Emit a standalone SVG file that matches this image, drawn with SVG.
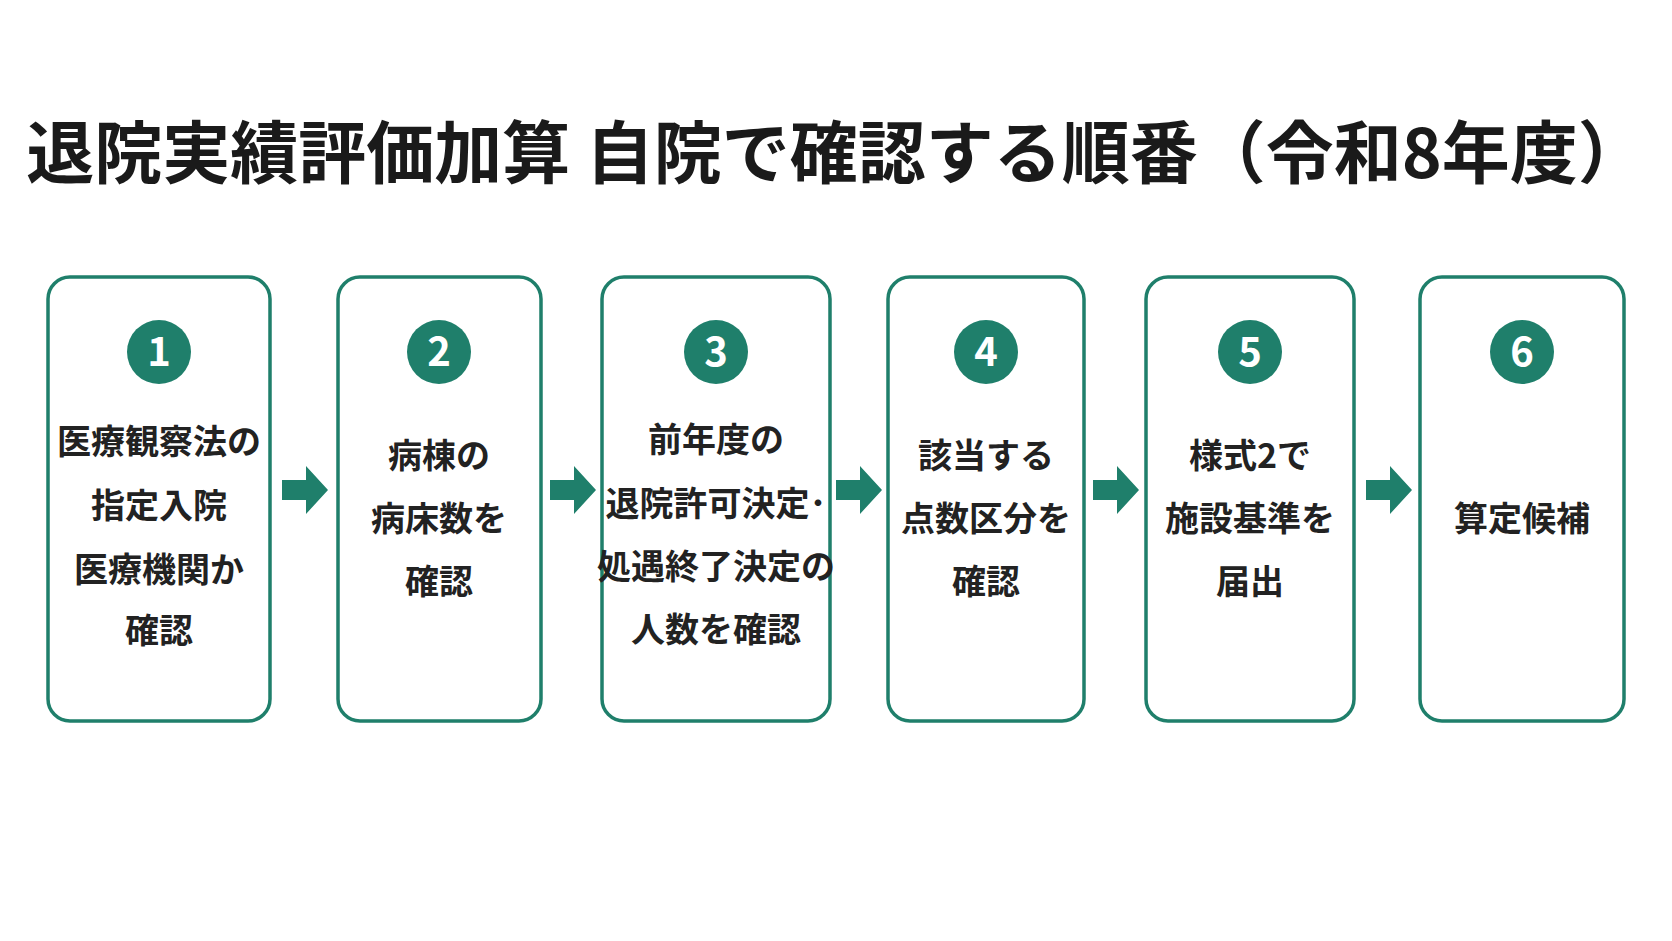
<svg xmlns="http://www.w3.org/2000/svg" width="1672" height="941" viewBox="0 0 1672 941">
<style>
.box{fill:#fff;stroke:#1f7f6b;stroke-width:3.5}
.c{fill:#1f7f6b}
.n{font-family:"Noto Sans CJK JP","Noto Sans",sans-serif;font-weight:700;font-size:40px;fill:#fff;text-anchor:middle}
.t{font-family:"Noto Sans CJK JP",sans-serif;font-weight:700;font-size:34px;fill:#222;text-anchor:middle}
.ttl{font-family:"Noto Sans CJK JP",sans-serif;font-weight:700;font-size:68px;fill:#1a1a1a;text-anchor:middle}
.a{fill:#1f7f6b}
</style>
<rect width="1672" height="941" fill="#fff"/>
<text class="ttl" x="836" y="178">退院実績評価加算 自院で確認する順番（令和8年度）</text>
<g id="n1"><rect class="box" x="48" y="277" width="222" height="444" rx="22"/><circle class="c" cx="159" cy="352" r="32"/><text class="n" x="159" y="366">1</text>
<text class="t" x="159" y="454">医療観察法の</text><text class="t" x="159" y="518">指定入院</text><text class="t" x="159" y="582">医療機関か</text><text class="t" x="159" y="643">確認</text></g>
<g id="n2"><rect class="box" x="338" y="277" width="203" height="444" rx="22"/><circle class="c" cx="439" cy="352" r="32"/><text class="n" x="439" y="366">2</text>
<text class="t" x="439" y="468">病棟の</text><text class="t" x="439" y="531">病床数を</text><text class="t" x="439" y="594">確認</text></g>
<g id="n3"><rect class="box" x="602" y="277" width="228" height="444" rx="22"/><circle class="c" cx="716" cy="352" r="32"/><text class="n" x="716" y="366">3</text>
<text class="t" x="716" y="452">前年度の</text><text class="t" x="716" y="516">退院許可決定･</text><text class="t" x="716" y="579">処遇終了決定の</text><text class="t" x="716" y="642">人数を確認</text></g>
<g id="n4"><rect class="box" x="888" y="277" width="196" height="444" rx="22"/><circle class="c" cx="986" cy="352" r="32"/><text class="n" x="986" y="366">4</text>
<text class="t" x="986" y="468">該当する</text><text class="t" x="986" y="531">点数区分を</text><text class="t" x="986" y="594">確認</text></g>
<g id="n5"><rect class="box" x="1146" y="277" width="208" height="444" rx="22"/><circle class="c" cx="1250" cy="352" r="32"/><text class="n" x="1250" y="366">5</text>
<text class="t" x="1250" y="468">様式2で</text><text class="t" x="1250" y="531">施設基準を</text><text class="t" x="1250" y="594">届出</text></g>
<g id="n6"><rect class="box" x="1420" y="277" width="204" height="444" rx="22"/><circle class="c" cx="1522" cy="352" r="32"/><text class="n" x="1522" y="366">6</text>
<text class="t" x="1522" y="531">算定候補</text></g>
<g id="connectors">
<defs><path id="ar" d="M-22,-10 H2 V-24 L24,0 L2,24 V10 H-22 Z"/></defs>
<use href="#ar" class="a" x="304" y="490"/>
<use href="#ar" class="a" x="572" y="490"/>
<use href="#ar" class="a" x="858" y="490"/>
<use href="#ar" class="a" x="1115" y="490"/>
<use href="#ar" class="a" x="1388" y="490"/>
</g>
</svg>
